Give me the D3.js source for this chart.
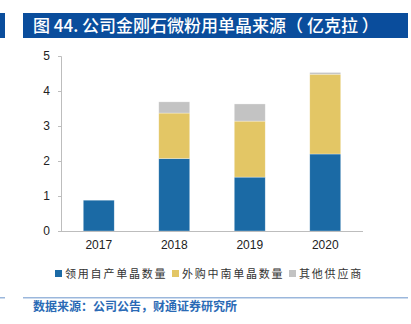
<!DOCTYPE html>
<html>
<head>
<meta charset="utf-8">
<script src="https://cdn.jsdelivr.net/npm/d3@7"></script>
<style>
  body { margin: 0; background: #fff; }
  svg { display: block; font-family: "Liberation Sans", Arial, sans-serif; }
</style>
</head>
<body>
<div id="chartbox"></div>
<script>
const years = ['2017', '2018', '2019', '2020']
const seriesNames = ['领用自产单晶数量', '外购中南单晶数量', '其他供应商']
const ownMade = [0.88, 2.07, 1.54, 2.20]
const bought = [0, 1.30, 1.60, 2.28]
const others = [0, 0.32, 0.49, 0.05]
const yTicks = [0, 1, 2, 3, 4, 5]

const colors = ['#1b6aa5', '#e3c665', '#c3c3c3']

const W = 411, H = 324
const margin = { top: 56, left: 61, right: 48, bottom: 93 }

const svg = d3.select('#chartbox')
  .append('svg')
  .attr('width', W)
  .attr('height', H)

// title bar
svg.append('rect').attr('x', 0).attr('y', 13).attr('width', 5).attr('height', 25).attr('fill', '#0a4d9c')
svg.append('rect').attr('x', 23).attr('y', 13).attr('width', 385).attr('height', 25).attr('fill', '#0a4d9c')
svg.append('text')
  .attr('x', 33).attr('y', 32)
  .attr('fill', '#fff')
  .attr('font-size', 17)
  .attr('font-weight', 500)
  .attr('font-family', '"Noto Sans CJK SC", sans-serif')
  .text('图 44. 公司金刚石微粉用单晶来源（ 亿克拉 ）')

const x = d3.scaleBand()
  .domain(years)
  .range([margin.left, W - margin.right])
  .paddingInner(0.59)
  .paddingOuter(0.295)

const y = d3.scaleLinear()
  .domain([0, 5])
  .range([H - margin.bottom, margin.top])

const table = years.map((yr, i) => ({ year: yr, a: ownMade[i], b: bought[i], c: others[i] }))
const stack = d3.stack().keys(['a', 'b', 'c'])(table)

svg.append('g')
  .selectAll('g')
  .data(stack)
  .enter()
  .append('g')
  .attr('fill', (d, i) => colors[i])
  .selectAll('rect')
  .data(d => d.filter(p => p[1] - p[0] > 0))
  .enter()
  .append('rect')
  .attr('x', d => x(d.data.year))
  .attr('width', x.bandwidth())
  .attr('y', d => y(d[1]))
  .attr('height', d => y(d[0]) - y(d[1]))
  .attr('stroke', '#ffffff')
  .attr('stroke-opacity', 0.5)
  .attr('stroke-width', 0.6)

// axes
const yAxis = svg.append('g')
  .attr('transform', 'translate(' + margin.left + ',0)')
  .call(d3.axisLeft(y).tickValues(yTicks).tickFormat(d3.format('d')).tickSize(3).tickPadding(8))
yAxis.select('.domain').attr('stroke', '#bdbdbd')
yAxis.selectAll('.tick line').attr('stroke', '#bdbdbd')
yAxis.selectAll('text').attr('font-size', 12).attr('fill', '#222').attr('font-family', '"Liberation Sans", Arial, sans-serif')

const xAxis = svg.append('g')
  .attr('transform', 'translate(0,' + (H - margin.bottom) + ')')
  .call(d3.axisBottom(x).tickSize(0).tickPadding(9))
xAxis.select('.domain').attr('stroke', '#bdbdbd').attr('d', 'M' + margin.left + ',0.5H' + (W - margin.right))
xAxis.selectAll('text').attr('font-size', 12).attr('fill', '#222').attr('font-family', '"Liberation Sans", Arial, sans-serif')

// legend
const legendX = [55, 172, 289]
const legend = svg.append('g')
  .selectAll('g')
  .data(seriesNames)
  .enter()
  .append('g')
  .attr('transform', (d, i) => 'translate(' + legendX[i] + ',270)')
legend.append('rect')
  .attr('x', 0).attr('y', 0)
  .attr('width', 7).attr('height', 7)
  .attr('fill', (d, i) => colors[i])
legend.append('text')
  .attr('x', 10).attr('y', 8)
  .attr('font-size', 11)
  .attr('letter-spacing', 1.8)
  .attr('fill', '#333')
  .attr('font-family', '"Noto Sans CJK SC", sans-serif')
  .text(d => d)

// footer
svg.append('rect').attr('x', 0).attr('y', 297).attr('width', 5).attr('height', 1.5).attr('fill', '#9bb7dc')
svg.append('rect').attr('x', 23).attr('y', 297).attr('width', 385).attr('height', 1.5).attr('fill', '#9bb7dc')
svg.append('text')
  .attr('x', 33).attr('y', 311)
  .attr('fill', '#2a6ab5')
  .attr('font-size', 12)
  .attr('font-weight', 'bold')
  .attr('font-family', '"Noto Sans CJK SC", sans-serif')
  .text('数据来源：公司公告，财通证券研究所')
</script>
</body>
</html>
